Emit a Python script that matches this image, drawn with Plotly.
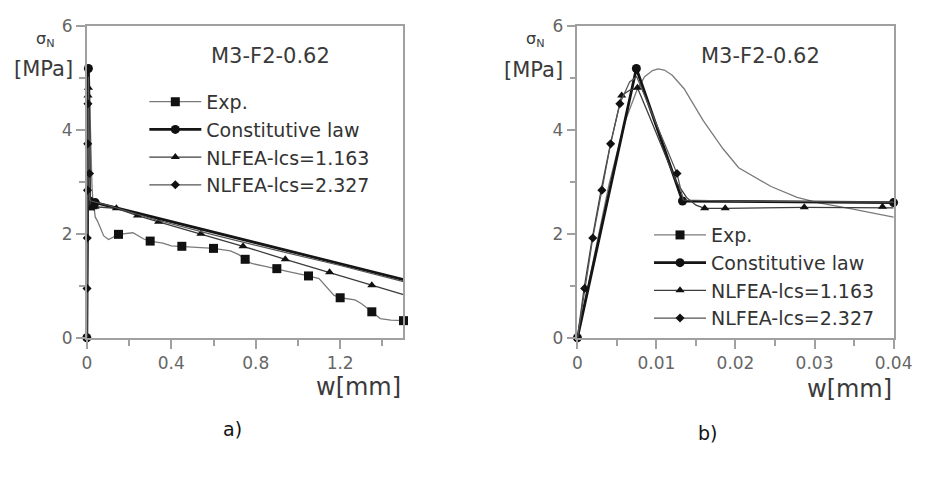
import plotly.graph_objects as go

W, H = 934, 482

# ---- data: crack opening w [mm] vs nominal stress sigma_N [MPa] ----
# Experimental curve
exp_w = [0, 0.002, 0.004, 0.006, 0.0075, 0.0085, 0.0095, 0.0102, 0.011, 0.012,
         0.0135, 0.0159, 0.0184, 0.0204, 0.0245, 0.0278, 0.0304, 0.0347, 0.04,
         0.05, 0.064, 0.08, 0.103, 0.125, 0.15, 0.218, 0.245, 0.27, 0.30, 0.36,
         0.40, 0.45, 0.54, 0.60, 0.68, 0.72, 0.75, 0.78, 0.84, 0.90, 0.96, 1.05,
         1.10, 1.17, 1.20, 1.27, 1.30, 1.35, 1.39, 1.44, 1.50]
exp_s = [0, 1.45, 2.95, 4.15, 4.75, 5.02, 5.14, 5.17, 5.15, 5.05,
         4.79, 4.18, 3.64, 3.27, 2.91, 2.70, 2.60, 2.48, 2.32,
         2.25, 2.12, 1.96, 1.89, 1.94, 1.99, 2.02, 1.96, 1.90, 1.86, 1.82,
         1.77, 1.76, 1.74, 1.72, 1.67, 1.60, 1.51, 1.43, 1.38, 1.33, 1.27, 1.19,
         1.14, 0.82, 0.77, 0.73, 0.66, 0.50, 0.37, 0.34, 0.33]
exp_marked = [24, 28, 31, 33, 36, 39, 41, 44, 47, 50]

# Constitutive law (linear rise, linear drop, linear tail)
law_w = [0, 0.00746, 0.0133, 0.04, 1.50]
law_s = [0, 5.18, 2.63, 2.60, 1.12]
law_marked = [0, 1, 2, 3]

# NLFEA, lcs = 1.163
fe1_w = [0, 0.00083, 0.00186, 0.003, 0.00417, 0.0053, 0.0056, 0.0066, 0.0076,
         0.009, 0.011, 0.0125, 0.0138, 0.015, 0.0161, 0.0187, 0.0287, 0.0386,
         0.14, 0.24, 0.34, 0.54, 0.74, 0.94, 1.15, 1.35, 1.50]
fe1_s = [0, 0.93, 1.90, 2.84, 3.72, 4.45, 4.66, 4.76, 4.81,
         4.30, 3.55, 3.00, 2.70, 2.55, 2.49, 2.49, 2.51, 2.52,
         2.49, 2.35, 2.23, 2.00, 1.76, 1.51, 1.26, 1.01, 0.83]
fe1_marked = [6, 8, 14, 15, 16, 17, 18, 19, 20, 21, 22, 23, 24, 25]

# NLFEA, lcs = 2.327
fe2_w = [0, 0.00092, 0.00195, 0.0031, 0.0042, 0.00537, 0.0066, 0.0075, 0.0100,
         0.0126, 0.0134, 0.02, 0.04, 0.10, 0.30, 0.60, 0.90, 1.20, 1.50]
fe2_s = [0, 0.95, 1.92, 2.84, 3.73, 4.50, 4.92, 5.02, 4.10,
         3.16, 2.65, 2.63, 2.61, 2.55, 2.30, 1.98, 1.68, 1.39, 1.08]
fe2_marked = [1, 2, 3, 4, 5, 9]

series = [
    dict(name="Exp.", w=exp_w, s=exp_s, marked=exp_marked,
         line=dict(color="#7a7a7a", width=1.3),
         marker=dict(symbol="square", size=9, color="#111111")),
    dict(name="Constitutive law", w=law_w, s=law_s, marked=law_marked,
         line=dict(color="#151515", width=2.8),
         marker=dict(symbol="circle", size=9, color="#111111")),
    dict(name="NLFEA-lcs=1.163", w=fe1_w, s=fe1_s, marked=fe1_marked,
         line=dict(color="#3c3c3c", width=1.3),
         marker=dict(symbol="triangle-up", size=8, color="#111111")),
    dict(name="NLFEA-lcs=2.327", w=fe2_w, s=fe2_s, marked=fe2_marked,
         line=dict(color="#555555", width=1.2),
         marker=dict(symbol="diamond", size=7, color="#111111")),
]

FONT = "DejaVu Sans"
fig = go.Figure()

# each panel: curves, marked points, and legend entries
for xa, ya, lg in (("x", "y", "legend"), ("x2", "y2", "legend2")):
    for sr in series:
        fig.add_trace(go.Scatter(
            x=sr["w"], y=sr["s"], mode="lines", line=sr["line"],
            xaxis=xa, yaxis=ya, showlegend=False, hoverinfo="skip"))
        fig.add_trace(go.Scatter(
            x=[sr["w"][i] for i in sr["marked"]],
            y=[sr["s"][i] for i in sr["marked"]],
            mode="markers", marker=sr["marker"], cliponaxis=False,
            xaxis=xa, yaxis=ya, showlegend=False))
    for sr in series:
        fig.add_trace(go.Scatter(
            x=[None], y=[None], mode="lines+markers", name=sr["name"],
            line=sr["line"], marker=sr["marker"],
            xaxis=xa, yaxis=ya, legend=lg, showlegend=True))

ydom = [(H - 342) / H, (H - 16.5) / H]
axis_common = dict(
    showline=True, linecolor="#a0a0a0", linewidth=1.5, mirror=True,
    showgrid=False, zeroline=False, ticks="outside", ticklen=9,
    tickcolor="#a0a0a0", tickwidth=1.5,
    tickfont=dict(family=FONT, size=17, color="#666666"),
)

fig.update_layout(
    width=W, height=H, margin=dict(l=0, r=0, t=0, b=0),
    paper_bgcolor="white", plot_bgcolor="white",
    xaxis=dict(domain=[84 / W, 409 / W], range=[0, 1.5], dtick=0.4, tick0=0,
               minor=dict(dtick=0.2, ticklen=6, tickcolor="#a0a0a0"),
               anchor="y", **axis_common),
    yaxis=dict(domain=ydom, range=[0, 6], dtick=2, tick0=0,
               minor=dict(dtick=1, ticklen=6, tickcolor="#a0a0a0"),
               anchor="x", **axis_common),
    xaxis2=dict(domain=[587.5 / W, 912 / W], range=[0, 0.04], dtick=0.01, tick0=0,
                minor=dict(dtick=0.005, ticklen=6, tickcolor="#a0a0a0"),
                anchor="y2", **axis_common),
    yaxis2=dict(domain=ydom, range=[0, 6], dtick=2, tick0=0,
                minor=dict(dtick=1, ticklen=6, tickcolor="#a0a0a0"),
                anchor="x2", **axis_common),
    legend=dict(x=143 / W, y=1 - 76 / H, xanchor="left", yanchor="top",
                bgcolor="rgba(0,0,0,0)", borderwidth=0, itemwidth=52,
                font=dict(family=FONT, size=19, color="#333333"),
                tracegroupgap=0),
    legend2=dict(x=661 / W, y=1 - 215 / H, xanchor="left", yanchor="top",
                 bgcolor="rgba(0,0,0,0)", borderwidth=0, itemwidth=52,
                 font=dict(family=FONT, size=19, color="#333333"),
                 tracegroupgap=0),
)


def txt(x, y, text, size, color="#3a3a3a", xanchor="center"):
    fig.add_annotation(x=x / W, y=1 - y / H, xref="paper", yref="paper",
                       text=text, showarrow=False, xanchor=xanchor,
                       yanchor="middle",
                       font=dict(family=FONT, size=size, color=color))


# panel a)
txt(272, 48, "M3-F2-0.62", 21)
txt(409, 393, "w[mm]", 24, xanchor="right")
txt(42, 31, "σ<sub>N</sub>", 16)
txt(40, 62, "[MPa]", 21)
txt(233, 437, "a)", 19, color="#111111")
# panel b)
txt(775, 48, "M3-F2-0.62", 21)
txt(912, 395, "w[mm]", 24, xanchor="right")
txt(545, 31, "σ<sub>N</sub>", 16)
txt(542, 63, "[MPa]", 21)
txt(721, 441, "b)", 19, color="#111111")

fig.write_html("out.html",
               post_script="document.body.style.margin='0';"
                           "document.body.style.overflow='hidden';")
